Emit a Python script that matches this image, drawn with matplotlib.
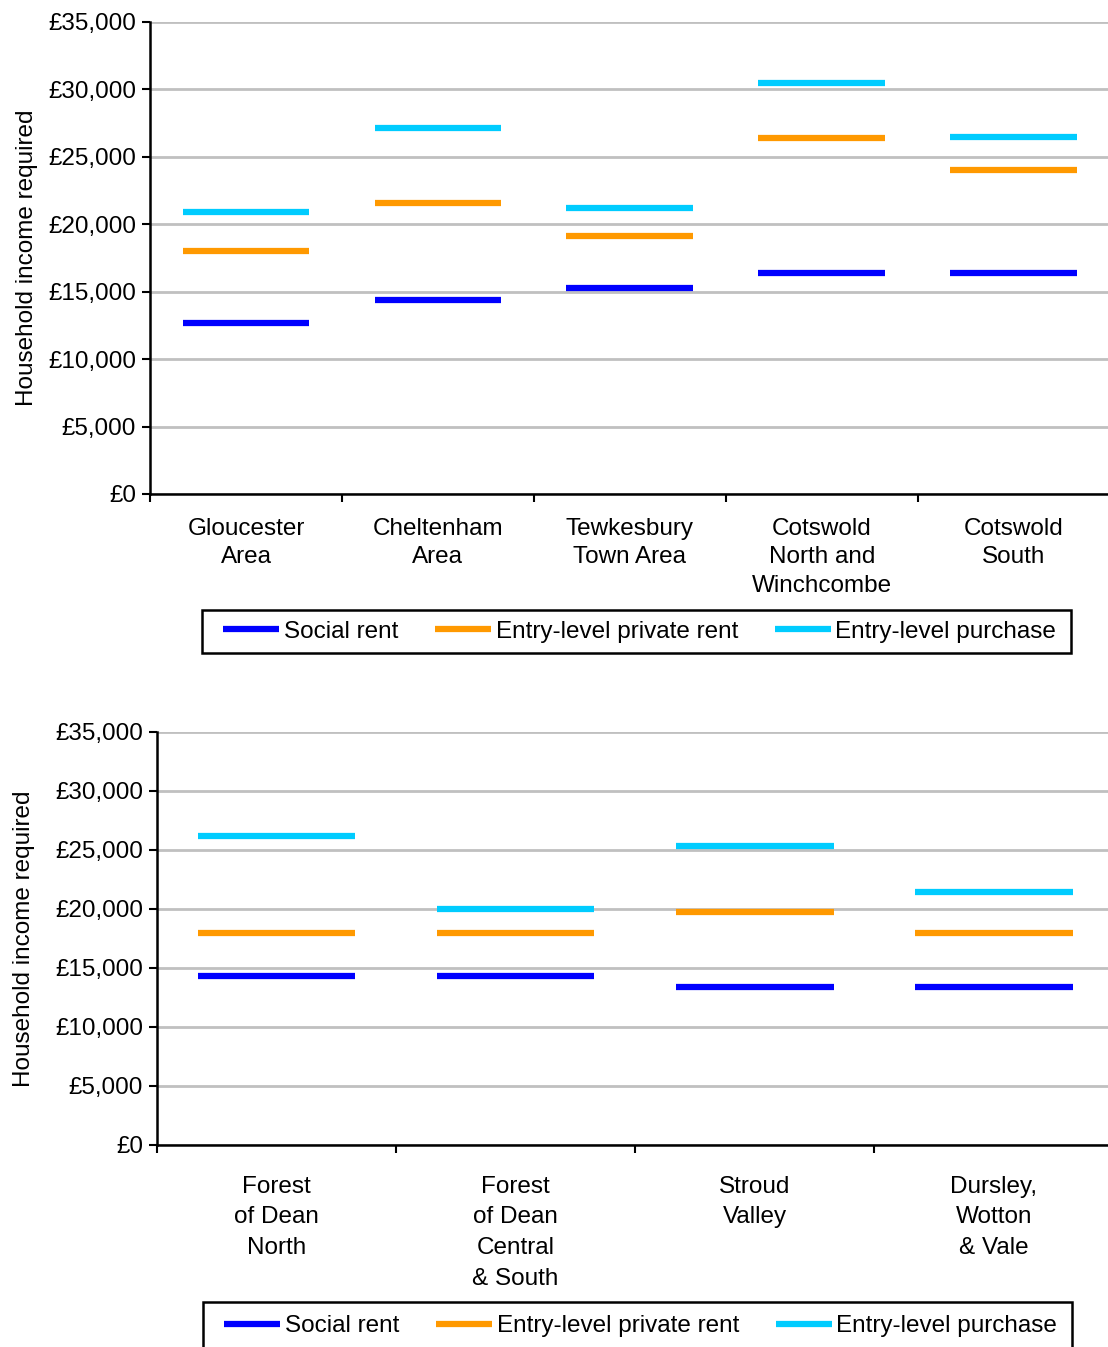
import matplotlib
matplotlib.use("Agg")
import matplotlib.pyplot as plt
from matplotlib.ticker import FuncFormatter
from matplotlib.patches import Rectangle

plt.rcParams['font.family'] = ['Liberation Sans', 'DejaVu Sans']

# ---------------- data ----------------
areas_top = ["Gloucester\nArea", "Cheltenham\nArea", "Tewkesbury\nTown Area",
             "Cotswold\nNorth and\nWinchcombe", "Cotswold\nSouth"]
social_top = [12700, 14400, 15300, 16400, 16400]
private_top = [18000, 21600, 19100, 26400, 24000]
purchase_top = [20900, 27100, 21200, 30500, 26500]

areas_bot = ["Forest\nof Dean\nNorth", "Forest\nof Dean\nCentral\n& South",
             "Stroud\nValley", "Dursley,\nWotton\n& Vale"]
social_bot = [14300, 14300, 13400, 13400]
private_bot = [18000, 18000, 19700, 18000]
purchase_bot = [26200, 20000, 25300, 21400]

series_names = ["Social rent", "Entry-level private rent", "Entry-level purchase"]
colors = ["#0000FF", "#FF9900", "#00CCFF"]
yticks = [0, 5000, 10000, 15000, 20000, 25000, 30000, 35000]

FS = 17.5
W, H = 1108, 1347


def draw_panel(ax, areas, series, line_spacing, pad):
    n = len(areas)
    xs = list(range(n))
    for vals, name, c in zip(series, series_names, colors):
        ax.hlines(vals, [x - 0.33 for x in xs], [x + 0.33 for x in xs],
                  colors=c, linewidth=4.5, zorder=3, label=name)
    ax.set_xlim(-0.5, n - 0.5)
    ax.set_ylim(0, 35000)
    ax.set_yticks(yticks)
    ax.yaxis.set_major_formatter(FuncFormatter(lambda v, p: "£{:,.0f}".format(v)))
    ax.grid(axis="y", color="#c0c0c0", linewidth=2, zorder=0)
    ax.set_axisbelow(True)
    ax.set_xticks([i - 0.5 for i in range(n + 1)])
    ax.set_xticklabels([])
    ax.set_xticks(xs, minor=True)
    ax.set_xticklabels(areas, minor=True, fontsize=FS, linespacing=line_spacing)
    ax.tick_params(axis="x", which="minor", length=0, pad=pad)
    ax.tick_params(axis="x", which="major", length=6, width=1.5, direction="out")
    ax.tick_params(axis="y", length=6, width=1.5, labelsize=FS, pad=4)
    for s in ["top", "right"]:
        ax.spines[s].set_visible(False)
    for s in ["left", "bottom"]:
        ax.spines[s].set_linewidth(1.8)
    ax.set_ylabel("Household income required", fontsize=FS)


def add_legend(ax, box, text_y):
    # box in pixels: left, top, right, bottom (from top-left of the figure)
    l, t, r, b = box
    fig.patches.append(Rectangle((l / W, 1 - b / H), (r - l) / W, (b - t) / H,
                                 transform=fig.transFigure, fill=False,
                                 edgecolor="black", linewidth=1.8))
    ax.legend(loc="center", bbox_to_anchor=((l + r) / 2 / W + 0.003, 1 - text_y / H),
              bbox_transform=fig.transFigure, ncol=3, fontsize=FS, frameon=False,
              handlelength=2.3, columnspacing=1.5, handletextpad=0.2)


fig = plt.figure(figsize=(W / 100, H / 100), dpi=100)

ax1 = fig.add_axes([0.1354, 0.6333, 0.866, 0.3504])
draw_panel(ax1, areas_top, [social_top, private_top, purchase_top], 1.4, 17)
ax1.yaxis.set_label_coords(-0.117, 0.5)
add_legend(ax1, (202, 610, 1071, 653), 631.5)

ax2 = fig.add_axes([0.1417, 0.1500, 0.863, 0.3066])
draw_panel(ax2, areas_bot, [social_bot, private_bot, purchase_bot], 1.52, 22)
ax2.yaxis.set_label_coords(-0.128, 0.5)
add_legend(ax2, (203, 1302, 1072, 1360), 1326)

fig.savefig("out.png", dpi=100)
